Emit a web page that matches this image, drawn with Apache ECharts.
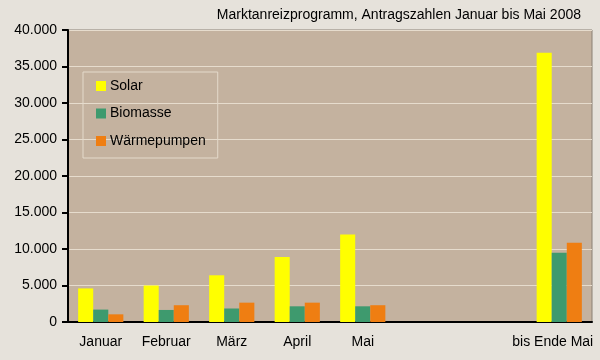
<!DOCTYPE html>
<html><head><meta charset="utf-8">
<script src="https://cdn.jsdelivr.net/npm/echarts@6/dist/echarts.min.js"></script>
<style>html,body{margin:0;padding:0;background:#e6e2db}#c{width:600px;height:360px}</style>
</head><body><div id="c"></div>
<script>
const categories = ['Januar', 'Februar', 'März', 'April', 'Mai', '', '', 'bis Ende Mai'];
const solar = [4600, 5000, 6400, 8900, 12000, null, null, 36900];
const biomasse = [1700, 1650, 1850, 2150, 2150, null, null, 9500];
const waermepumpen = [1050, 2300, 2650, 2650, 2300, null, null, 10850];
const seriesNames = ['Solar', 'Biomasse', 'Wärmepumpen'];
const yTicks = { min: 0, max: 40000, interval: 5000 };
const titleText = 'Marktanreizprogramm, Antragszahlen Januar bis Mai 2008';

const chart = echarts.init(document.getElementById('c'));
const font = 'Liberation Sans, Arial, sans-serif';
chart.setOption({
  backgroundColor: '#e6e2db',
  animation: false,
  title: { text: titleText, right: 19, top: 8, padding: 0, textStyle: { fontFamily: font, fontSize: 14, fontWeight: 'normal', color: '#000' } },
  grid: { left: 68, right: 8, top: 30, bottom: 38, show: true, backgroundColor: '#c4b29f', borderColor: '#8a8074', borderWidth: 1 },
  legend: {
    orient: 'vertical', left: 83, top: 72,
    padding: [7, 12, 10, 13], itemGap: 13.5, itemWidth: 10, itemHeight: 10,
    borderColor: '#e4dacb', borderWidth: 1,
    icon: 'rect',
    textStyle: { fontFamily: font, fontSize: 14, color: '#000', padding: [0, 0, 0, -1] },
    data: seriesNames
  },
  xAxis: {
    type: 'category',
    data: categories.map((c, i) => i === categories.length - 1 ? { value: c, textStyle: { padding: [0, 13, 0, 0] } } : c),
    axisLine: { lineStyle: { color: '#000', width: 2 } },
    axisTick: { length: 6, lineStyle: { color: '#000', width: 2 } },
    axisLabel: { fontFamily: font, fontSize: 14, color: '#000', margin: 13, interval: 0 }
  },
  yAxis: {
    type: 'value', min: yTicks.min, max: yTicks.max, interval: yTicks.interval,
    axisLine: { show: true, lineStyle: { color: '#000', width: 2 } },
    axisTick: { show: true, length: 6, lineStyle: { color: '#000', width: 2 } },
    splitLine: { lineStyle: { color: '#e6dccd', width: 1 } },
    axisLabel: { fontFamily: font, fontSize: 14, color: '#000', margin: 11,
      formatter: v => v.toString().replace(/\B(?=(\d{3})+(?!\d))/g, '.') }
  },
  series: [
    { name: seriesNames[0], type: 'bar', data: solar, itemStyle: { color: '#ffff00' }, barGap: '0%', barCategoryGap: '31%' },
    { name: seriesNames[1], type: 'bar', data: biomasse, itemStyle: { color: '#3e9a6e' } },
    { name: seriesNames[2], type: 'bar', data: waermepumpen, itemStyle: { color: '#ef7e12' } }
  ]
});
</script></body></html>
